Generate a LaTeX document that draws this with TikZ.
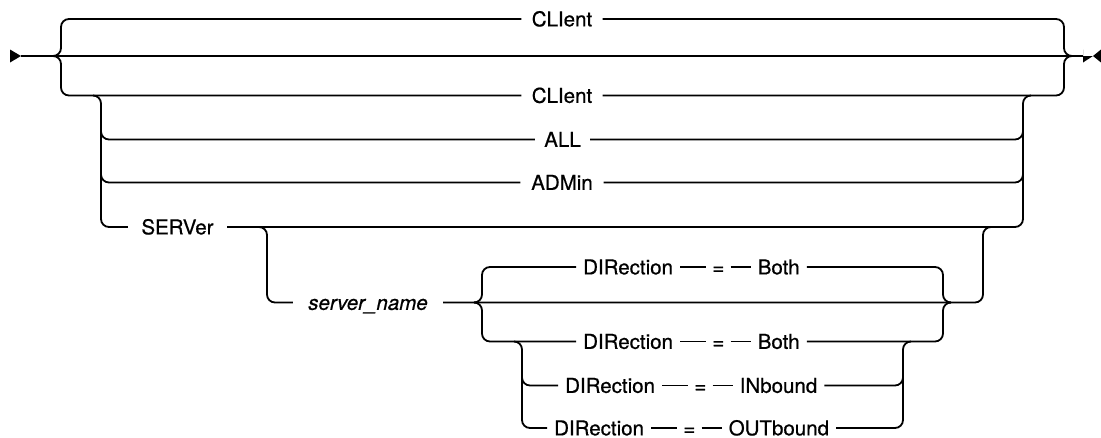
\documentclass[tikz,border=0pt]{standalone}
\usepackage{fontspec}
\setmainfont{TeX Gyre Heros}[FakeBold=0.6]
\usetikzlibrary{positioning}
\begin{document}
\begin{tikzpicture}[x=1pt,y=-1pt,
  rail/.style={line width=1.8pt, rounded corners=8pt},
  kw/.style={inner xsep=0pt, inner ysep=0pt, text height=14.7pt, text depth=0pt, font=\fontsize{20.5}{24}\selectfont},
  tok/.style={kw, inner xsep=7pt},
  eqs/.style={kw, inner xsep=6pt}]
\useasboundingbox (0,0) rectangle (1101,437);
\newcommand\dirrow[4]{%
  \node[tok,anchor=west] (#1d) at (#2,#3) {DIRection};
  \node[eqs,right=26pt of #1d] (#1e) {=};
  \node[tok,right=20pt of #1e] (#1v) {#4};
  \draw[rail] (#1d.east) -- (#1e.west);
  \draw[rail] (#1e.east) -- (#1v.west);}
% start / end markers and main line
\coordinate (start) at (21,56);
\coordinate (fin) at (1083,56);
\fill (10,49.5) -- (start) -- (10,62.5) -- cycle;
\fill (fin) -- (1093,56) -- (1083,62.5) -- (1083,49.5) -- cycle;
\fill (1101,49.5) -- (1093,56) -- (1101,62.5) -- cycle;
\draw[rail] (start) -- (fin);
% keyword nodes
\node[kw, minimum width=81pt] (c1) at (562,19) {CLIent};
\node[kw, minimum width=81pt] (c2) at (562,95.5) {CLIent};
\node[kw, minimum width=55pt] (all) at (562.5,139.5) {ALL};
\node[kw, minimum width=83pt] (adm) at (562,182.5) {ADMin};
\node[kw, minimum width=99pt] (srv) at (177.5,227) {SERVer};
\node[kw, minimum width=150pt, font=\fontsize{20.5}{24}\selectfont\itshape] (sname) at (368,302.5) {server\_name};
\dirrow{ra}{576}{267}{Both}
\dirrow{rb}{576}{341.5}{Both}
\dirrow{rc}{558}{385.5}{INbound}
\dirrow{rd}{547}{428}{OUTbound}
% junction coordinates
\coordinate (Lj) at (53,56);
\coordinate (Rj) at (1072,56);
\coordinate (sLj) at (93,95.5);
\coordinate (sRj) at (1031,95.5);
\coordinate (aL) at (101,131.5);
\coordinate (aR) at (1023,131.5);
\coordinate (dL) at (101,174.5);
\coordinate (dR) at (1023,174.5);
\coordinate (nLj) at (259,227);
\coordinate (nRj) at (991,227);
\coordinate (bLj) at (474,302.5);
\coordinate (bRj) at (951,302.5);
\coordinate (iLj) at (514,341.5);
\coordinate (iRj) at (911,341.5);
\coordinate (inL) at (522,377.5);
\coordinate (inR) at (903,377.5);
% outer choice
\draw[rail] (Lj) -- (61,56) -- (61,19) -- (c1.west);
\draw[rail] (c1.east) -- (1064,19) -- (1064,56) -- (Rj);
\draw[rail] (Lj) -- (61,56) -- (61,95.5) -- (c2.west);
\draw[rail] (c2.east) -- (1064,95.5) -- (1064,56) -- (Rj);
% sub choice
\draw[rail] (sLj) -- (101,95.5) -- (101,227) -- (srv.west);
\draw[rail] (aL) -- (101,139.5) -- (all.west);
\draw[rail] (all.east) -- (1023,139.5) -- (aR);
\draw[rail] (dL) -- (101,182.5) -- (adm.west);
\draw[rail] (adm.east) -- (1023,182.5) -- (dR);
\draw[rail] (srv.east) -- (1023,227) -- (1023,95.5) -- (sRj);
% server_name optional
\draw[rail] (nLj) -- (267,227) -- (267,302.5) -- (sname.west);
\draw[rail] (sname.east) -- (983,302.5) -- (983,227) -- (nRj);
% direction choice
\draw[rail] (bLj) -- (482,302.5) -- (482,267) -- (rad.west);
\draw[rail] (rav.east) -- (943,267) -- (943,302.5) -- (bRj);
\draw[rail] (bLj) -- (482,302.5) -- (482,341.5) -- (rbd.west);
\draw[rail] (rbv.east) -- (943,341.5) -- (943,302.5) -- (bRj);
% inner choice
\draw[rail] (iLj) -- (522,341.5) -- (522,428) -- (rdd.west);
\draw[rail] (inL) -- (522,385.5) -- (rcd.west);
\draw[rail] (rdv.east) -- (903,428) -- (903,341.5) -- (iRj);
\draw[rail] (rcv.east) -- (903,385.5) -- (inR);
\end{tikzpicture}
\end{document}
